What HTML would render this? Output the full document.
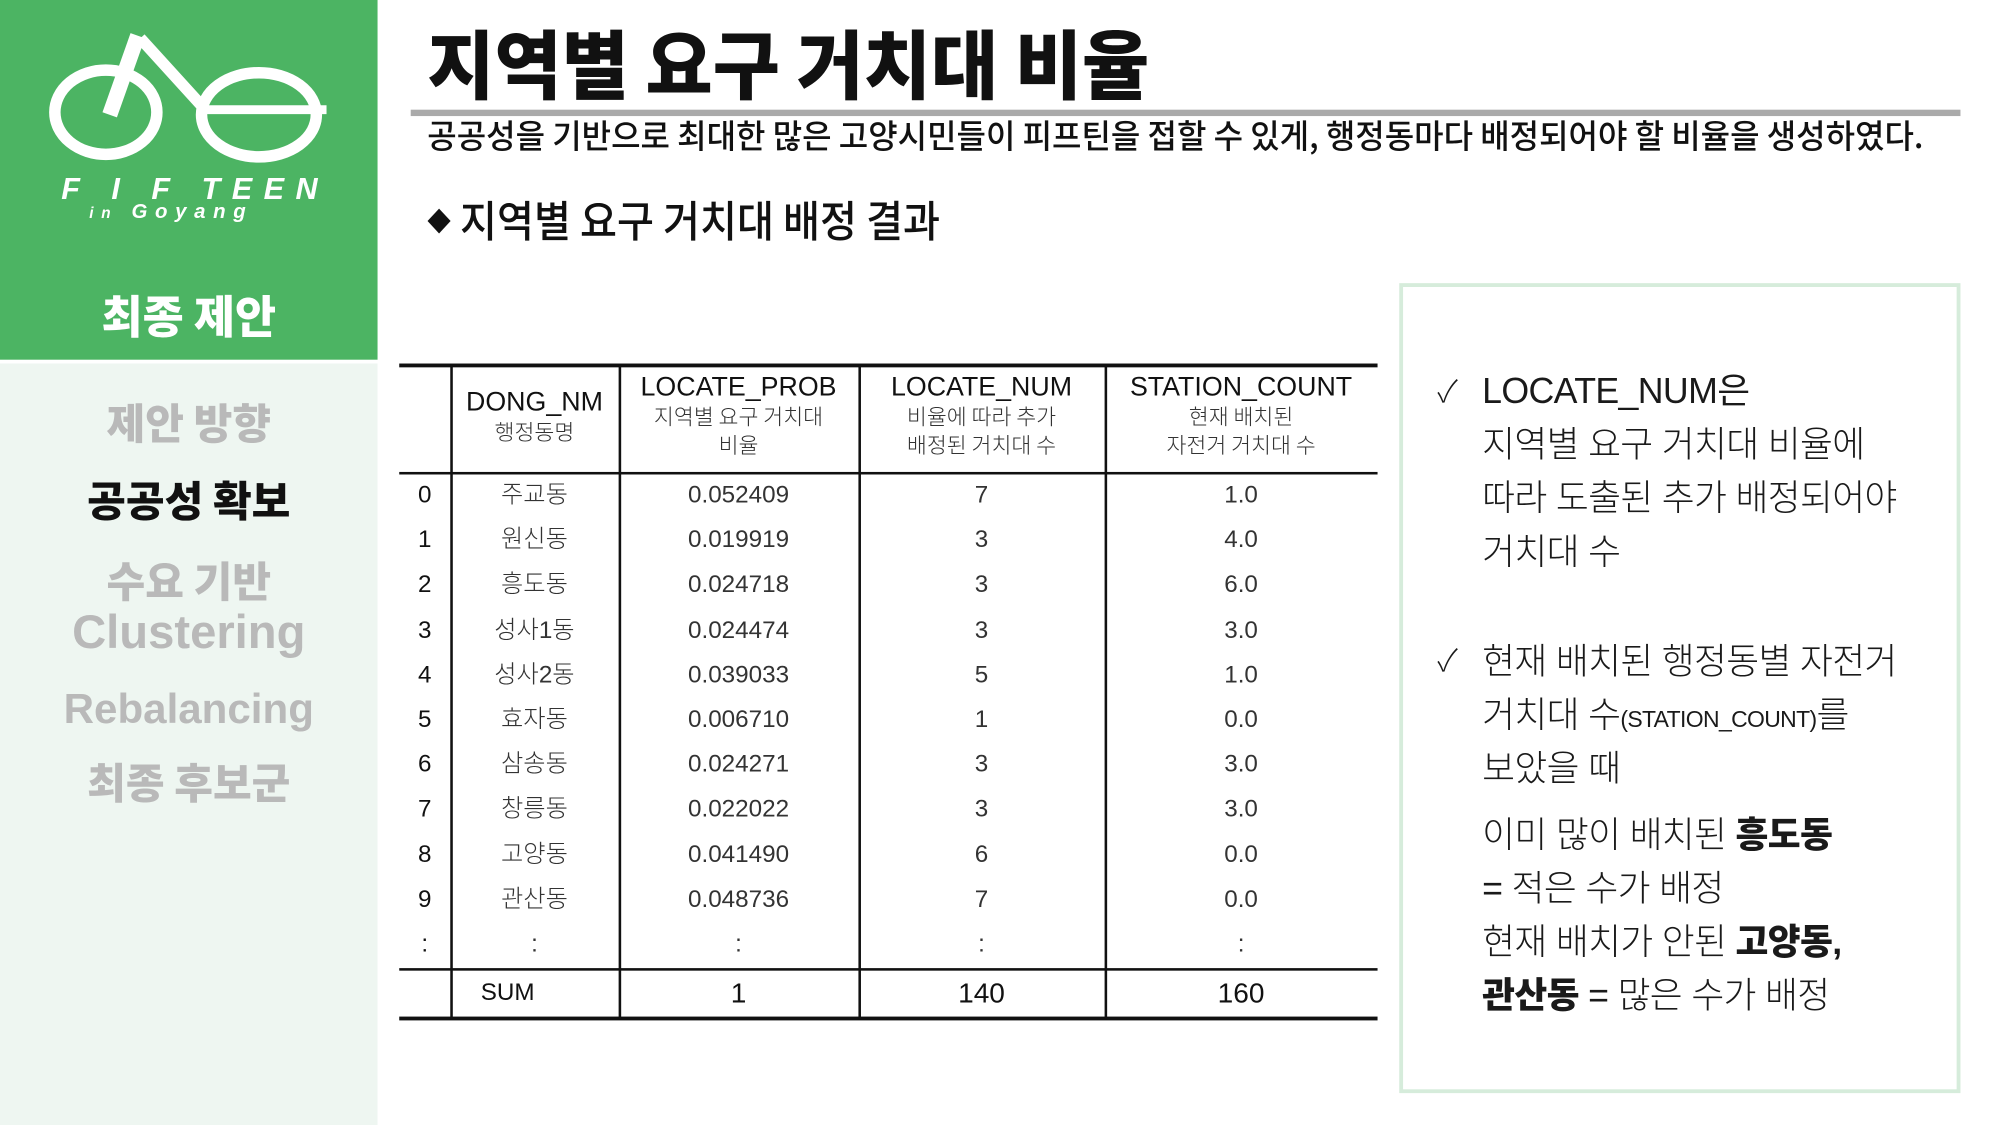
<!DOCTYPE html>
<html><head><meta charset="utf-8">
<style>
html,body{margin:0;padding:0;width:2000px;height:1125px;overflow:hidden;background:#fff}
#stage{position:absolute;left:0;top:0;width:1568px;height:882px;transform-origin:0 0;transform:scale(1.27551,1.27551);font-family:"Liberation Sans","Noto Sans CJK KR",sans-serif;color:#111}
.abs{position:absolute;white-space:nowrap}
.fit{display:inline-block;transform-origin:0 0}
.menu{position:absolute;left:0;width:296px;text-align:center;font-family:"Noto Sans CJK KR",sans-serif;font-weight:900;font-size:33px;color:#b9b9b9;line-height:1}
.cell{position:absolute;text-align:center;font-family:"Liberation Sans","Noto Sans CJK KR",sans-serif;font-size:19px;color:#333;font-weight:300;line-height:1}
.hl{position:absolute;background:#111}
.box p{margin:0;position:absolute;left:62px;font-family:"Liberation Sans","Noto Sans CJK KR",sans-serif;font-size:28px;letter-spacing:-0.5px;color:#1a1a1a;white-space:nowrap;font-weight:300}
</style></head><body>
<div id="stage">
  <div class="abs" style="left:0;top:0;width:296px;height:282px;background:#4cb463"></div>
  <div class="abs" style="left:0;top:285px;width:296px;height:597px;background:#eef6f1"></div>
  <svg class="abs" style="left:0;top:0" width="296" height="140" viewBox="0 0 296 140">
    <g fill="none" stroke="#fff" stroke-width="9">
      <ellipse cx="83" cy="88" rx="40" ry="33"/>
      <ellipse cx="203" cy="90" rx="45" ry="33"/>
      <line x1="110" y1="30" x2="160" y2="85"/>
      <line x1="108" y1="28" x2="86" y2="90" stroke-width="12"/>
      <line x1="158" y1="86" x2="256" y2="86" stroke-width="7"/>
    </g>
  </svg>
  <div class="abs" style="left:48px;top:135px;font-size:24px;font-weight:bold;font-style:italic;color:#fff;letter-spacing:9px">F I F TEEN</div>
  <div class="abs" style="left:70px;top:158px;font-size:16px;font-weight:bold;font-style:italic;color:#fff;letter-spacing:6px"><span style="font-size:12px">in</span> Goyang</div>
  <div class="menu" style="top:229px;color:#fff;font-size:35px">최종 제안</div>
  <div class="menu" style="top:314px">제안 방향</div>
  <div class="menu" style="top:375px;color:#111">공공성 확보</div>
  <div class="menu" style="top:438px">수요 기반</div>
  <div class="menu" style="top:477px;font-family:'Liberation Sans',sans-serif;font-weight:bold;font-size:37px">Clustering</div>
  <div class="menu" style="top:539px;font-family:'Liberation Sans',sans-serif;font-weight:bold;font-size:33px">Rebalancing</div>
  <div class="menu" style="top:596px">최종 후보군</div>

  <div class="abs" style="left:335px;top:18px;line-height:1"><span class="fit" data-w="566" style="font-family:'Noto Sans CJK KR',sans-serif;font-weight:900;font-size:62px;transform:scaleY(0.95)">지역별 요구 거치대 비율</span></div>
  <div class="abs" style="left:322px;top:86px;width:1215px;height:5px;background:#aaa"></div>
  <div class="abs" style="left:335px;top:93px;line-height:1"><span class="fit" data-w="1173" style="font-family:'Noto Sans CJK KR',sans-serif;font-weight:500;font-size:26px">공공성을 기반으로 최대한 많은 고양시민들이 피프틴을 접할 수 있게, 행정동마다 배정되어야 할 비율을 생성하였다.</span></div>
  <div class="abs" style="left:335px;top:155px;line-height:1"><span class="fit" data-w="402" style="font-family:'Noto Sans CJK KR',sans-serif;font-weight:500;font-size:34px"><span style="font-size:20px;vertical-align:5px">◆</span> 지역별 요구 거치대 배정 결과</span></div>

  <div id="table"></div>

  <div class="abs box" style="left:1097px;top:222px;width:434px;height:629px;border:3px solid #d6ecdb">
    <p style="left:27px;top:62px;font-size:24px">✓</p>
    <p style="top:60px;font-weight:normal">LOCATE_NUM은</p>
    <p style="top:102px">지역별 요구 거치대 비율에</p>
    <p style="top:144px">따라 도출된 추가 배정되어야</p>
    <p style="top:186px">거치대 수</p>
    <p style="left:27px;top:273px;font-size:24px">✓</p>
    <p style="top:272px">현재 배치된 행정동별 자전거</p>
    <p style="top:314px">거치대 수<span style="font-size:18px">(STATION_COUNT)</span>를</p>
    <p style="top:356px">보았을 때</p>
    <p style="top:408px">이미 많이 배치된 <b style="font-weight:900">흥도동</b></p>
    <p style="top:450px">= 적은 수가 배정</p>
    <p style="top:492px">현재 배치가 안된 <b style="font-weight:900">고양동,</b></p>
    <p style="top:534px"><b style="font-weight:900">관산동</b> = 많은 수가 배정</p>
  </div>
</div>
<script>
const dongNames = ["주교동","원신동","흥도동","성사1동","성사2동","효자동","삼송동","창릉동","고양동","관산동"];
const locateProb = ["0.052409","0.019919","0.024718","0.024474","0.039033","0.006710","0.024271","0.022022","0.041490","0.048736"];
const locateNum = [7,3,3,3,5,1,3,3,6,7];
const stationCount = ["1.0","4.0","6.0","3.0","1.0","0.0","3.0","3.0","0.0","0.0"];
const sumRow = ["SUM","1","140","160"];

const T = document.getElementById('table');
const colX = [313,353,485,673,866,1080];
function add(parent, cls, style, text){
  const d=document.createElement('div'); d.className=cls; d.style.cssText=style; if(text!==undefined) d.textContent=text; parent.appendChild(d); return d;
}
let e;
e=add(T,'hl','left:313px;top:285px;width:767px;height:3px');


e=add(T,'hl','left:313px;top:370px;width:767px;height:2px');


e=add(T,'hl','left:313px;top:759px;width:767px;height:2px');


e=add(T,'hl','left:313px;top:797px;width:767px;height:3px');


for(let i=1;i<5;i++){
  e=add(T,'hl','left:'+colX[i]+'px;top:286px;width:2px;height:513px');
  
  
}
const headers=[["DONG_NM","행정동명"],["LOCATE_PROB","지역별 요구 거치대<br>비율"],["LOCATE_NUM","비율에 따라 추가<br>배정된 거치대 수"],["STATION_COUNT","현재 배치된<br>자전거 거치대 수"]];
headers.forEach((h,i)=>{
  const x0=colX[i+1], w=colX[i+2]-x0;
  const top = i===0 ? 305 : 293;
  const d=add(T,'cell','left:'+x0+'px;top:'+top+'px;width:'+w+'px;color:#111;font-weight:normal;font-size:21px');
  d.innerHTML=h[0]+'<div style="font-size:17px;color:#333;line-height:22px;margin-top:1px;font-family:\'Noto Sans CJK KR\',sans-serif;font-weight:300">'+h[1]+'</div>';
  
  
});
const rowH=35.2, row0=389;
function rowCells(vals, y){
  vals.forEach((v,c)=>{
    const x0=colX[c], w=colX[c+1]-x0;
    const d=add(T,'cell','left:'+x0+'px;top:'+(y-10)+'px;width:'+w+'px'+(c===0?';color:#111;font-weight:normal':''), String(v));
    
    
  });
}
for(let r=0;r<dongNames.length;r++){
  rowCells([r,dongNames[r],locateProb[r],locateNum[r],stationCount[r]], row0+r*rowH);
}
rowCells([":",":",":",":",":"], row0+10*rowH);
const sumX=[313,485,673,866,1080];
sumRow.forEach((v,c)=>{
  const d=add(T,'cell','left:'+sumX[c]+'px;top:'+(c===0?769:768)+'px;width:'+(sumX[c+1]-sumX[c])+'px;color:#111;font-weight:normal;font-size:'+(c===0?19:22)+'px', v);
  if(c===0){d.style.width='170px';}
  
  
});
document.querySelectorAll('.fit').forEach(s=>{
  const w=s.getBoundingClientRect().width/1.27551;
  const target=+s.dataset.w;
  const sy = s.style.transform.includes('scaleY')? s.style.transform : '';
  s.style.transform='scaleX('+(target/w)+') '+sy;
});
</script>
</body></html>
